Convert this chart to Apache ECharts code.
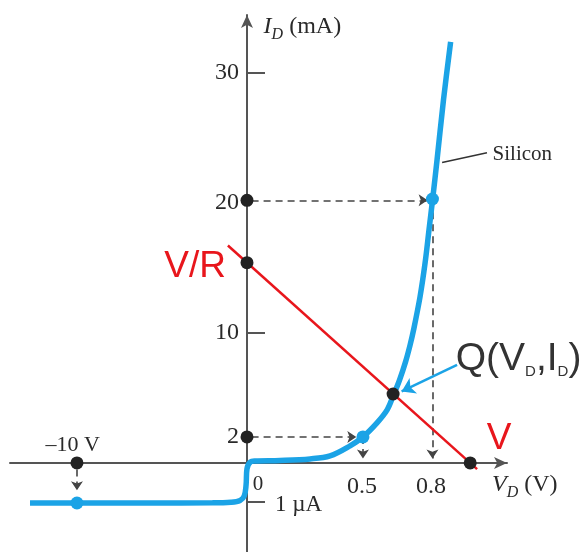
<!DOCTYPE html>
<html><head><meta charset="utf-8">
<script src="https://cdn.jsdelivr.net/npm/echarts@6/dist/echarts.min.js"></script>
<style>html,body{margin:0;padding:0;background:#fff}#c{width:588px;height:552px}</style>
</head><body><div id="c"></div>
<script>
// ---- axes (forward region in volts / mA; reverse region drawn compressed as in the figure)
const xRange = [-1.03, 1.13];
const yRange = [-6.85, 34.45];
const yLabelValues = [2, 10, 20, 30];
const yTickValues = [10, 30, -3.0];
const xLabelValues = [0.5, 0.8];

// ---- silicon diode characteristic
const diodeV = [-0.943, -0.739, -0.42, -0.15, -0.07, -0.03, -0.012, -0.004, 0.0, 0.015, 0.035, 0.143, 0.274, 0.361, 0.448, 0.504, 0.565, 0.609, 0.637, 0.663, 0.689, 0.709, 0.724, 0.752, 0.774, 0.791, 0.807, 0.826, 0.854, 0.885];
const diodeI = [-3.08, -3.08, -3.08, -3.07, -3.02, -2.88, -2.55, -1.7, -0.45, 0.08, 0.15, 0.19, 0.31, 0.54, 1.31, 2.0, 3.08, 4.08, 5.23, 6.38, 7.77, 9.08, 10.23, 12.77, 15.38, 17.92, 20.31, 23.31, 27.92, 32.38];

// ---- load line
const loadV = [-0.083, 1.0];
const loadI = [16.72, -0.48];

// ---- marked points
const blackV = [0, 0, 0, -0.739, 0.635, 0.97];
const blackI = [2, 20.2, 15.4, 0, 5.3, 0];
const blueV = [0.504, 0.806, -0.739];
const blueI = [2, 20.3, -3.08];

// ---- dashed arrows (from -> to)
const arrowFromV = [0.02, 0.504, 0.02, 0.806, -0.739];
const arrowFromI = [2, 2, 20.2, 20.2, -0.5];
const arrowToV = [0.475, 0.504, 0.785, 0.806, -0.739];
const arrowToI = [2, 0.35, 20.2, 0.35, -2.1];

// ---- leader lines
const silLeaderV = [0.848, 1.043];
const silLeaderI = [23.1, 23.85];
const qArrowV = [0.913, 0.672];
const qArrowI = [7.55, 5.5];

// ---- text annotations
const annV = [0.07, 1.063, 1.065, 0.048, 0.12, -0.757, -0.089, 1.04, 0.905];
const annI = [33.55, -1.65, 23.7, -1.65, -3.25, 1.35, 15.1, 1.85, 8.0];
const annText = ['{i|I}{s|D}{n| (mA)}', '{i|V}{s|D}{n| (V)}', 'Silicon', '0', '1 \u00b5A', '\u201310 V', 'V/R', 'V', '{q|Q(V}{qs|D}{q|,I}{qs|D}{q|)}'];
const annPos = ['right', 'right', 'right', 'inside', 'right', 'inside', 'left', 'right', 'right'];
const annKind = ['serif', 'serif', 'serif', 'serif', 'serifL', 'serifM', 'red', 'red', 'dark'];

const chart = echarts.init(document.getElementById('c'));
const SERIF = 'Liberation Serif';
const SANS = 'Liberation Sans';
const AX = '#555';
const RED = '#e8161c';
const BLUE = '#1ba3e6';
const TXT = '#2a2a2a';
const GRID = { left: 10, right: 81, top: 15, bottom: 0 };
const W = 588, H = 552;

function zip(a, b) { return a.map((v, i) => [v, b[i]]); }

const richStyles = {
  i: { fontFamily: SERIF, fontStyle: 'italic', fontSize: 24, color: TXT, lineHeight: 32 },
  s: { fontFamily: SERIF, fontStyle: 'italic', fontSize: 16, color: TXT, lineHeight: 14, verticalAlign: 'bottom' },
  n: { fontFamily: SERIF, fontSize: 24, color: TXT, lineHeight: 32 },
  q: { fontFamily: SANS, fontSize: 39, color: '#333', lineHeight: 48 },
  qs: { fontFamily: SANS, fontSize: 15, color: '#333', lineHeight: 15, verticalAlign: 'bottom', padding: [0, 0, 4, 0] }
};

const annData = annText.map((t, i) => {
  const k = annKind[i];
  let style;
  if (k === 'serif') style = { fontFamily: SERIF, fontSize: 21, color: TXT };
  else if (k === 'serifL') style = { fontFamily: SERIF, fontSize: 23, color: TXT };
  else if (k === 'serifM') style = { fontFamily: SERIF, fontSize: 22, color: TXT };
  else if (k === 'red') style = { fontFamily: SANS, fontSize: 37, color: RED };
  else style = { fontFamily: SANS, fontSize: 39, color: '#333' };
  return {
    value: [annV[i], annI[i]],
    label: Object.assign({ show: true, formatter: t, position: annPos[i], distance: 0, rich: richStyles, opacity: 1 }, style)
  };
});

function arrows(fv, fi, tv, ti) {
  return fv.map((v, i) => ({ coords: [[v, fi[i]], [tv[i], ti[i]]] }));
}

// place axes at the zero crossings by offsetting them from the grid edges
const plotW = W - GRID.left - GRID.right, plotH = H - GRID.top - GRID.bottom;
const yAxisOffset = -plotW * (0 - xRange[0]) / (xRange[1] - xRange[0]);
const xAxisOffset = -plotH * (0 - yRange[0]) / (yRange[1] - yRange[0]);

chart.setOption({
  animation: false,
  backgroundColor: '#fff',
  grid: Object.assign({ containLabel: false, outerBoundsMode: 'none' }, GRID),
  xAxis: {
    type: 'value', min: xRange[0], max: xRange[1], position: 'bottom', offset: xAxisOffset,
    splitLine: { show: false },
    axisLine: { onZero: false, lineStyle: { color: AX, width: 2 }, symbol: ['none', 'arrow'], symbolSize: [9, 13] },
    axisTick: { show: false },
    axisLabel: { customValues: xLabelValues, formatter: v => String(v), fontFamily: SERIF, fontSize: 24, color: TXT, margin: 12 }
  },
  yAxis: {
    type: 'value', min: yRange[0], max: yRange[1], position: 'left', offset: yAxisOffset,
    splitLine: { show: false },
    axisLine: { onZero: false, lineStyle: { color: AX, width: 2 }, symbol: ['none', 'arrow'], symbolSize: [9, 13] },
    axisTick: { show: true, inside: true, length: 18, customValues: yTickValues, lineStyle: { color: AX, width: 2 } },
    axisLabel: { customValues: yLabelValues, formatter: v => String(v), fontFamily: SERIF, fontSize: 24, color: TXT, margin: 8 }
  },
  series: [
    { type: 'line', data: zip(diodeV, diodeI), smooth: 0.35, symbol: 'none', lineStyle: { color: BLUE, width: 5.5 }, z: 3 },
    { type: 'line', data: zip(loadV, loadI), symbol: 'none', lineStyle: { color: RED, width: 2.5 }, z: 4 },
    { type: 'lines', coordinateSystem: 'cartesian2d', data: arrows(arrowFromV, arrowFromI, arrowToV, arrowToI),
      lineStyle: { color: '#444', width: 1.6, type: [7, 5], opacity: 1 }, symbol: ['none', 'arrow'], symbolSize: 9, z: 2 },
    { type: 'lines', coordinateSystem: 'cartesian2d', data: [{ coords: zip(silLeaderV, silLeaderI) }],
      lineStyle: { color: '#333', width: 1.5, opacity: 1 }, symbol: ['none', 'none'], z: 2 },
    { type: 'lines', coordinateSystem: 'cartesian2d', data: [{ coords: zip(qArrowV, qArrowI) }],
      lineStyle: { color: BLUE, width: 2.5, opacity: 1 }, symbol: ['none', 'arrow'], symbolSize: 13, z: 5 },
    { type: 'scatter', data: zip(blueV, blueI), symbolSize: 13, itemStyle: { color: BLUE, opacity: 1 }, z: 6 },
    { type: 'scatter', data: zip(blackV, blackI), symbolSize: 13, itemStyle: { color: '#222', opacity: 1 }, z: 7 },
    { type: 'scatter', data: annData, symbolSize: 1, itemStyle: { color: 'rgba(0,0,0,0)' }, z: 8, silent: true,
      labelLayout: { hideOverlap: false } }
  ]
});
</script></body></html>
